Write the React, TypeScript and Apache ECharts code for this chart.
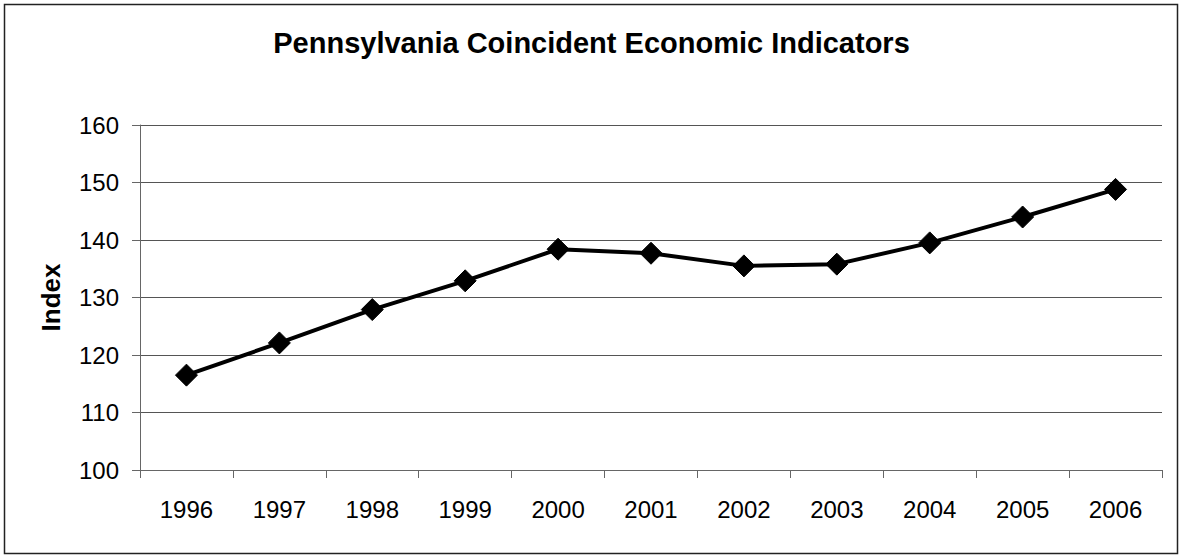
import React, { useEffect, useRef } from "react";
import * as echarts from "echarts";

const years = ["1996", "1997", "1998", "1999", "2000", "2001", "2002", "2003", "2004", "2005", "2006"];
const indexValues = [116.5, 122.1, 127.9, 132.9, 138.4, 137.7, 135.5, 135.8, 139.5, 144.0, 148.8];
const titleText = "Pennsylvania Coincident Economic Indicators";
const yAxisName = "Index";
const yMin = 100;
const yMax = 160;
const yInterval = 10;

const FONT = "'Liberation Sans', Arial, Helvetica, sans-serif";

export default function App() {
  const ref = useRef<HTMLDivElement>(null);

  useEffect(() => {
    if (!ref.current) return;
    const chart = echarts.init(ref.current, null, { renderer: "svg" });
    chart.setOption({
      animation: false,
      backgroundColor: "#ffffff",
      title: {
        text: titleText,
        left: "center",
        top: 23,
        padding: [5, 0, 5, 7],
        textStyle: {
          fontFamily: FONT,
          fontSize: 29,
          fontWeight: "bold",
          color: "#000000",
        },
      },
      graphic: [
        {
          type: "rect",
          shape: { x: 4.5, y: 4.5, width: 1173, height: 549 },
          style: { fill: "none", stroke: "#222222", lineWidth: 1.5 },
          silent: true,
          z: -1,
        },
      ],
      grid: {
        left: 140,
        right: 21,
        top: 125,
        bottom: 89,
        containLabel: false,
      },
      xAxis: {
        type: "category",
        data: years,
        boundaryGap: true,
        axisLine: { show: true, lineStyle: { color: "#666666", width: 1 } },
        axisTick: { show: true, length: 8, alignWithLabel: false, lineStyle: { color: "#666666" } },
        axisLabel: {
          margin: 27,
          fontFamily: FONT,
          fontSize: 24,
          color: "#000000",
        },
        splitLine: { show: false },
      },
      yAxis: {
        type: "value",
        min: yMin,
        max: yMax,
        interval: yInterval,
        name: yAxisName,
        nameLocation: "middle",
        nameRotate: 90,
        nameGap: 76,
        nameTextStyle: {
          fontFamily: FONT,
          fontSize: 26,
          fontWeight: "bold",
          color: "#000000",
        },
        axisLine: { show: true, lineStyle: { color: "#666666", width: 1 } },
        axisTick: { show: true, length: 8, inside: false, lineStyle: { color: "#666666" } },
        axisLabel: {
          margin: 21,
          fontFamily: FONT,
          fontSize: 24,
          color: "#000000",
        },
        splitLine: { show: true, lineStyle: { color: "#555555", width: 1 } },
      },
      series: [
        {
          type: "line",
          data: indexValues,
          symbol: "diamond",
          symbolSize: 22,
          lineStyle: { color: "#000000", width: 4 },
          itemStyle: { color: "#000000", borderColor: "#000000" },
          emphasis: { disabled: true },
        },
      ],
    });
    return () => {
      chart.dispose();
    };
  }, []);

  return (
    <div
      ref={ref}
      style={{ position: "fixed", left: 0, top: 0, width: 1183, height: 559 }}
    />
  );
}
